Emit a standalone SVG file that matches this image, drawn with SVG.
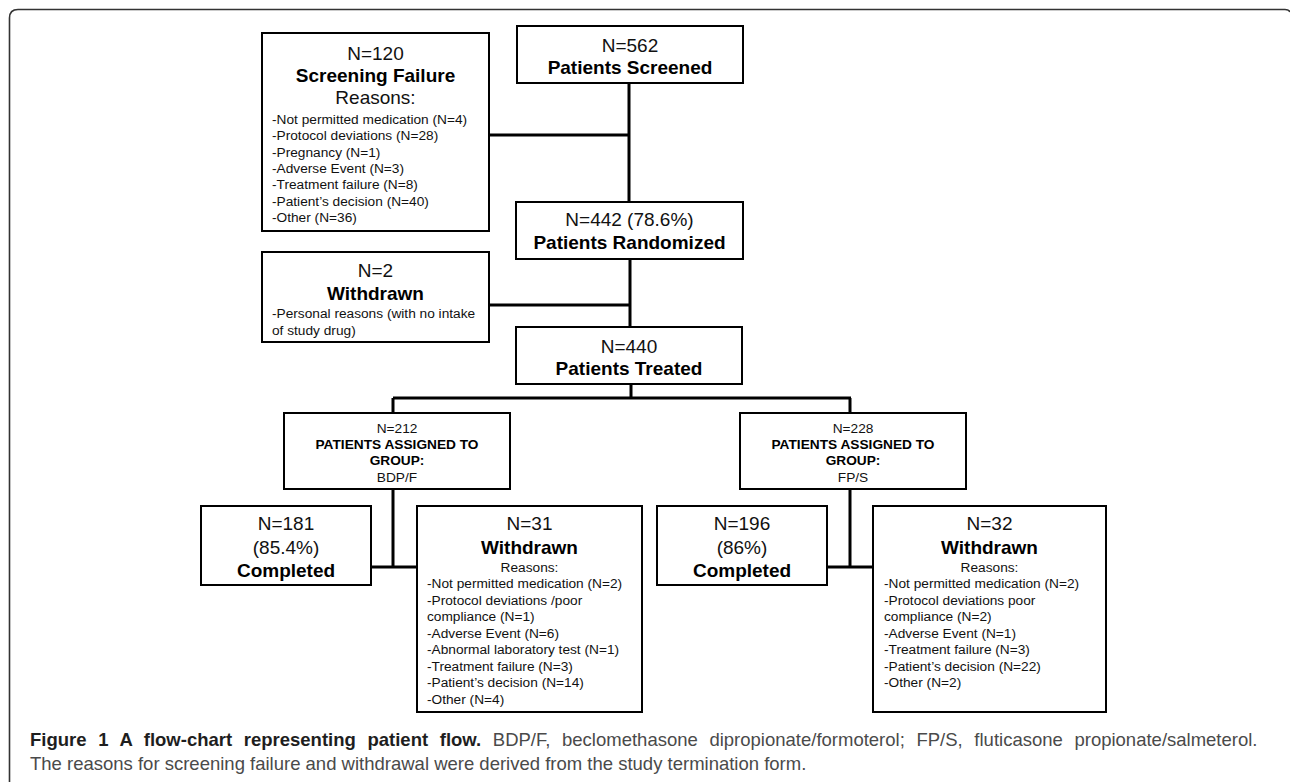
<svg xmlns="http://www.w3.org/2000/svg" width="1290" height="782" viewBox="0 0 1290 782">
<style>
.box{fill:#fff;stroke:#000;stroke-width:2}
.t{font-family:"Liberation Sans",Arial,sans-serif;fill:#111}
.big{font-size:19px}
.b{font-weight:bold;fill:#000}
.sm{font-size:13.7px}
.c{text-anchor:middle}
.con{stroke:#000;stroke-width:3;fill:none}
.cap{font-family:"Liberation Sans",Arial,sans-serif;font-size:18.5px;fill:#4a4a4a}
</style>
<rect width="1290" height="782" fill="#fff"/>
<path d="M9.5,782 V18 Q9.5,9.5 18,9.5 H1285 Q1289,9.5 1290,12" fill="none" stroke="#333" stroke-width="1.6"/>
<g id="connectors">
<path class="con" d="M629,83 V202 M489,135 H629"/>
<path class="con" d="M630,259 V327 M489,305 H630"/>
<path class="con" d="M631,384 V398 M393,398 H851 M393,398 V413 M850,398 V413"/>
<path class="con" d="M393,489 V567 M371,567 H417"/>
<path class="con" d="M850,489 V567 M827,567 H873"/>
</g>
<g id="screened">
<rect class="box" x="517" y="26" width="226" height="57"/>
<text class="t big c" x="630" y="51.5">N=562</text>
<text class="t big b c" x="630" y="73.5">Patients Screened</text>
</g>
<g id="screening-failure">
<rect class="box" x="262" y="33" width="227" height="198"/>
<text class="t big c" x="375.5" y="59.5">N=120</text>
<text class="t big b c" x="375.5" y="81.5">Screening Failure</text>
<text class="t big c" x="375.5" y="103.5">Reasons:</text>
<text class="t sm" x="272" y="124">-Not permitted medication (N=4)</text>
<text class="t sm" x="272" y="140.3">-Protocol deviations (N=28)</text>
<text class="t sm" x="272" y="156.6">-Pregnancy (N=1)</text>
<text class="t sm" x="272" y="172.9">-Adverse Event (N=3)</text>
<text class="t sm" x="272" y="189.2">-Treatment failure (N=8)</text>
<text class="t sm" x="272" y="205.5">-Patient’s decision (N=40)</text>
<text class="t sm" x="272" y="221.8">-Other (N=36)</text>
</g>
<g id="randomized">
<rect class="box" x="516" y="202" width="227" height="57"/>
<text class="t big c" x="629.5" y="225.5">N=442 (78.6%)</text>
<text class="t big b c" x="629.5" y="248.5">Patients Randomized</text>
</g>
<g id="withdrawn-2">
<rect class="box" x="262" y="252" width="227" height="90"/>
<text class="t big c" x="375.5" y="276.5">N=2</text>
<text class="t big b c" x="375.5" y="299.5">Withdrawn</text>
<text class="t sm" x="272" y="318">-Personal reasons (with no intake</text>
<text class="t sm" x="272" y="335">of study drug)</text>
</g>
<g id="treated">
<rect class="box" x="516" y="327" width="226" height="57"/>
<text class="t big c" x="629" y="352.5">N=440</text>
<text class="t big b c" x="629" y="374.5">Patients Treated</text>
</g>
<g id="group-bdpf">
<rect class="box" x="284" y="413" width="226" height="76"/>
<text class="t sm c" x="397" y="433">N=212</text>
<text class="t sm b c" x="397" y="449">PATIENTS ASSIGNED TO</text>
<text class="t sm b c" x="397" y="465">GROUP:</text>
<text class="t sm c" x="397" y="482">BDP/F</text>
</g>
<g id="group-fps">
<rect class="box" x="740" y="413" width="226" height="76"/>
<text class="t sm c" x="853" y="433">N=228</text>
<text class="t sm b c" x="853" y="449">PATIENTS ASSIGNED TO</text>
<text class="t sm b c" x="853" y="465">GROUP:</text>
<text class="t sm c" x="853" y="482">FP/S</text>
</g>
<g id="completed-bdpf">
<rect class="box" x="201" y="506" width="170" height="79"/>
<text class="t big c" x="286" y="529.5">N=181</text>
<text class="t big c" x="286" y="553.5">(85.4%)</text>
<text class="t big b c" x="286" y="576.5">Completed</text>
</g>
<g id="withdrawn-bdpf">
<rect class="box" x="417" y="506" width="225" height="206"/>
<text class="t big c" x="529.5" y="529.5">N=31</text>
<text class="t big b c" x="529.5" y="553.5">Withdrawn</text>
<text class="t sm c" x="529.5" y="572">Reasons:</text>
<text class="t sm" x="427" y="588">-Not permitted medication (N=2)</text>
<text class="t sm" x="427" y="604.5">-Protocol deviations /poor</text>
<text class="t sm" x="427" y="621">compliance (N=1)</text>
<text class="t sm" x="427" y="637.5">-Adverse Event (N=6)</text>
<text class="t sm" x="427" y="654">-Abnormal laboratory test (N=1)</text>
<text class="t sm" x="427" y="670.5">-Treatment failure (N=3)</text>
<text class="t sm" x="427" y="687">-Patient’s decision (N=14)</text>
<text class="t sm" x="427" y="703.5">-Other (N=4)</text>
</g>
<g id="completed-fps">
<rect class="box" x="657" y="506" width="170" height="79"/>
<text class="t big c" x="742" y="529.5">N=196</text>
<text class="t big c" x="742" y="553.5">(86%)</text>
<text class="t big b c" x="742" y="576.5">Completed</text>
</g>
<g id="withdrawn-fps">
<rect class="box" x="873" y="506" width="233" height="206"/>
<text class="t big c" x="989.5" y="529.5">N=32</text>
<text class="t big b c" x="989.5" y="553.5">Withdrawn</text>
<text class="t sm c" x="989.5" y="572">Reasons:</text>
<text class="t sm" x="884" y="588">-Not permitted medication (N=2)</text>
<text class="t sm" x="884" y="604.5">-Protocol deviations poor</text>
<text class="t sm" x="884" y="621">compliance (N=2)</text>
<text class="t sm" x="884" y="637.5">-Adverse Event (N=1)</text>
<text class="t sm" x="884" y="654">-Treatment failure (N=3)</text>
<text class="t sm" x="884" y="670.5">-Patient’s decision (N=22)</text>
<text class="t sm" x="884" y="687">-Other (N=2)</text>
</g>
<g id="caption">
<text class="cap" x="30" y="746" word-spacing="6.5"><tspan font-weight="bold" fill="#1e1e1e">Figure 1 A flow-chart representing patient flow.</tspan> BDP/F, beclomethasone dipropionate/formoterol; FP/S, fluticasone propionate/salmeterol.</text>
<text class="cap" x="30" y="770">The reasons for screening failure and withdrawal were derived from the study termination form.</text>
</g>
</svg>
